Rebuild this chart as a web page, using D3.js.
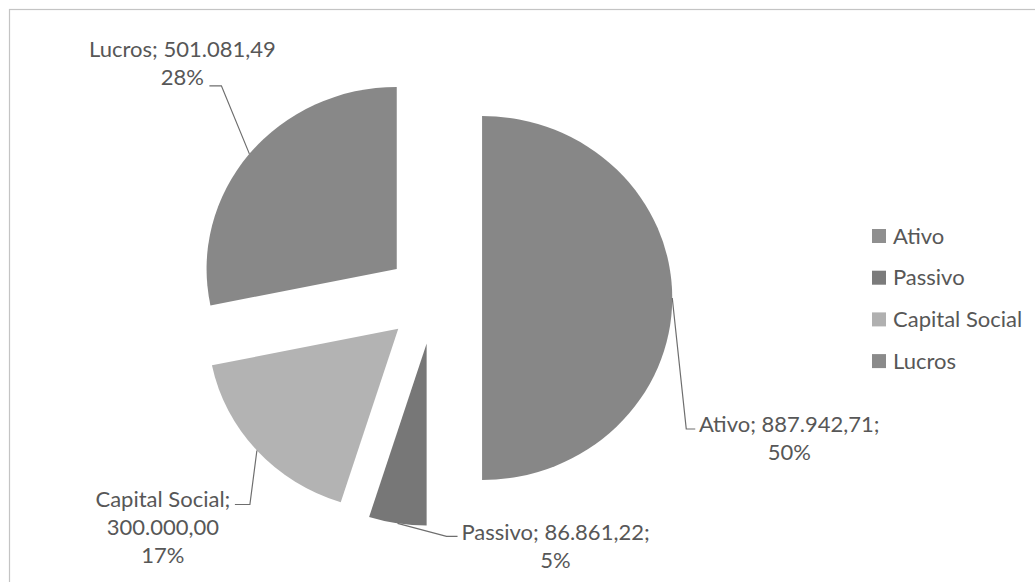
<!DOCTYPE html>
<html>
<head>
<meta charset="utf-8">
<script src="https://cdn.jsdelivr.net/npm/d3@7"></script>
<style>
  body { margin: 0; background: #fff; }
  svg { display: block; }
  text { font-family: Lato, "Open Sans", sans-serif; fill: #575757; }
</style>
</head>
<body>
<div id="chart"></div>
<script>
// values
const categories = ["Ativo", "Passivo", "Capital Social", "Lucros"]
const values = [887942.71, 86861.22, 300000.00, 501081.49]
const colors = ["#878787", "#777777", "#b3b3b3", "#888888"]
const legendColors = ["#8f8f8f", "#7b7b7b", "#b0b0b0", "#8a8a8a"]

const width = 1035, height = 582
const cx = 434, cy = 298, radius = 182, explode = 46
const sx = 1.045 // the scanned picture is a little wider than tall

// label layout: leader elbow and text block relative to leader start
const labelLayout = [
    { elbow: [14, 131], end: [23, 131], tx: 117, ty: 134, lines: d => [d.name + "; " + d.val + ";", d.pct] },
    { elbow: [49, 13], end: [60, 13], tx: 158, ty: 17, lines: d => [d.name + "; " + d.val + ";", d.pct] },
    { elbow: [-7, 54], end: [-22, 54], tx: -94, ty: 56, lines: d => [d.name + ";", d.val, d.pct] },
    { elbow: [-28, -68], end: [-40, -68], tx: -67, ty: -97, lines: d => [d.name + "; " + d.val, d.pct] }
]

const br = d3.formatLocale({ decimal: ",", thousands: ".", grouping: [3], currency: ["R$", ""] })
const fmtVal = br.format(",.2f")
const fmtPct = d3.format(".0%")
const total = d3.sum(values)

const data = categories.map((c, i) => ({ name: c, value: values[i], i: i }))

let svg = d3.select("#chart").append("svg").attr("width", width).attr("height", height)

// chart area border (right and bottom run off the page)
svg.append("rect").attr("x", 9.5).attr("y", 9.5).attr("width", width + 20).attr("height", height + 20)
    .attr("fill", "none").attr("stroke", "#c4c4c4").attr("stroke-width", 1.2)

let pie = d3.pie().value(d => d.value).sort(null)
let arc = d3.arc().innerRadius(0).outerRadius(radius)
let edge = d3.arc().innerRadius(radius).outerRadius(radius)
let arcs = pie(data)

function offset(d) {
    let mid = (d.startAngle + d.endAngle) / 2
    return [explode * Math.sin(mid), -explode * Math.cos(mid)]
}

let g = svg.append("g").attr("transform", "translate(" + cx + "," + cy + ")")

g.append("g").attr("transform", "scale(" + sx + ",1)")
    .selectAll("path.slice").data(arcs).join("path")
    .attr("class", "slice")
    .attr("d", arc)
    .attr("fill", d => colors[d.data.i])
    .attr("transform", d => "translate(" + offset(d) + ")")

// leader lines and labels
arcs.forEach(function (d) {
    let o = offset(d)
    let c = edge.centroid(d)
    let s = [(c[0] + o[0]) * sx, c[1] + o[1]]
    let L = labelLayout[d.data.i]
    let pts = [s, [s[0] + L.elbow[0], s[1] + L.elbow[1]], [s[0] + L.end[0], s[1] + L.end[1]]]
    g.append("path")
        .attr("d", d3.line()(pts))
        .attr("fill", "none").attr("stroke", "#6e6e6e").attr("stroke-width", 1.2)

    let info = { name: d.data.name, val: fmtVal(d.data.value), pct: fmtPct(d.data.value / total) }
    let t = g.append("text")
        .attr("text-anchor", "middle")
        .attr("font-size", "22px")
        .attr("x", s[0] + L.tx).attr("y", s[1] + L.ty)
    L.lines(info).forEach(function (line, k) {
        t.append("tspan").attr("x", s[0] + L.tx).attr("dy", k == 0 ? 0 : 28).text(line)
    })
})

// legend
let lg = svg.append("g").attr("transform", "translate(872,236)")
let item = lg.selectAll("g").data(categories).join("g")
    .attr("transform", (d, i) => "translate(0," + (i * 41.7) + ")")
item.append("rect").attr("x", 0).attr("y", -7).attr("width", 14).attr("height", 14)
    .attr("fill", (d, i) => legendColors[i])
item.append("text").attr("x", 21).attr("y", 7.5).attr("font-size", "22px").text(d => d)
</script>
</body>
</html>
